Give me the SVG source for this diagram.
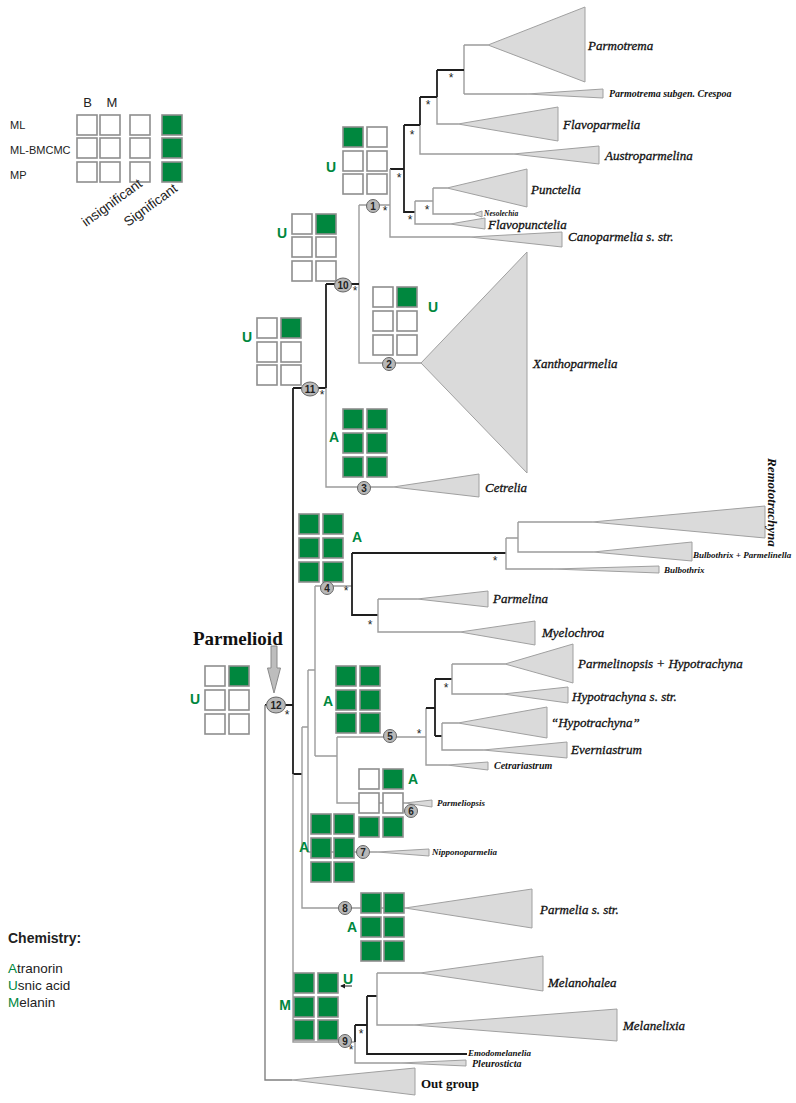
<svg xmlns="http://www.w3.org/2000/svg" width="796" height="1103" viewBox="0 0 796 1103">
<defs>
<style>
.g{stroke:#9c9c9c;stroke-width:1.4;fill:none}
.k{stroke:#1e1e1e;stroke-width:1.8;fill:none}
.tri{fill:#dadada;stroke:#a0a0a0;stroke-width:1}
.bw{fill:#fff;stroke:#8e8e8e;stroke-width:1.6}
.bg{fill:#00873e;stroke:#8e8e8e;stroke-width:1.6}
.nc{fill:#b8b8b8;stroke:#666;stroke-width:1}
.nt{font-family:'Liberation Sans',Arial,sans-serif;font-weight:bold;font-size:10px;fill:#222;text-anchor:middle}
.st{font-family:'Liberation Sans',Arial,sans-serif;font-size:12px;fill:#222;text-anchor:middle}
.tx{font-family:'Liberation Serif','Times New Roman',serif;font-style:italic;font-size:13px;fill:#111;stroke:#111;stroke-width:0.3}
.sm{font-family:'Liberation Serif','Times New Roman',serif;font-style:italic;font-weight:bold;fill:#111}
.gl{font-family:'Liberation Sans',Arial,sans-serif;font-weight:bold;font-size:14px;fill:#00873e;text-anchor:middle}
.lg{font-family:'Liberation Sans',Arial,sans-serif;fill:#222}
</style>
<marker id="ah" viewBox="0 0 6 6" refX="5" refY="3" markerWidth="5" markerHeight="5" orient="auto"><path d="M0,0 L6,3 L0,6 z" fill="#1e1e1e"/></marker>
</defs>
<rect width="796" height="1103" fill="#fff"/>

<!-- legend -->
<g id="legend">
<text class="lg" x="87.5" y="107" font-size="13" text-anchor="middle">B</text>
<text class="lg" x="112" y="107" font-size="13" text-anchor="middle">M</text>
<text class="lg" x="10" y="129" font-size="11">ML</text>
<text class="lg" x="10" y="154" font-size="11">ML-BMCMC</text>
<text class="lg" x="10" y="179" font-size="11">MP</text>
<rect class="bw" x="77" y="115" width="20" height="20"/><rect class="bw" x="100" y="115" width="20" height="20"/><rect class="bw" x="130" y="115" width="20" height="20"/><rect class="bg" x="162" y="115" width="20" height="20"/>
<rect class="bw" x="77" y="138" width="20" height="20"/><rect class="bw" x="100" y="138" width="20" height="20"/><rect class="bw" x="130" y="138" width="20" height="20"/><rect class="bg" x="162" y="138" width="20" height="20"/>
<rect class="bw" x="77" y="162" width="20" height="20"/><rect class="bw" x="100" y="162" width="20" height="20"/><rect class="bw" x="130" y="162" width="20" height="20"/><rect class="bg" x="162" y="162" width="20" height="20"/>
<text class="lg" font-size="13.5" transform="translate(86,227) rotate(-36)">insignificant</text>
<text class="lg" font-size="13.5" transform="translate(128,227) rotate(-36)">Significant</text>
</g>

<g id="chemistry-legend">
<text class="lg" x="8" y="943" font-size="14" font-weight="bold">Chemistry:</text>
<text class="lg" x="8" y="973" font-size="13.5"><tspan fill="#00873e">A</tspan>tranorin</text>
<text class="lg" x="8" y="990" font-size="13.5"><tspan fill="#00873e">U</tspan>snic acid</text>
<text class="lg" x="8" y="1007" font-size="13.5"><tspan fill="#00873e">M</tspan>elanin</text>
</g>

<!-- connectors -->
<g id="connectors">
<path class="g" d="M464,45 V94 M464,45 H488 M464,94 H527"/>
<path class="k" d="M437,70 H464 M437,70 V97"/>
<path class="g" d="M437,97 V124 H458"/>
<path class="k" d="M420,97 H437 M420,97 V125"/>
<path class="g" d="M420,125 V154 H513"/>
<path class="k" d="M404,125 H420 M404,125 V212 H415 M390,169 H404"/>
<path class="g" d="M415,201 V224 H450 M415,201 H433 M433,188 V214 H473 M433,188 H447"/>
<path class="g" d="M390,169 V237 H470 M359,205 H390 M359,205 V363 H421"/>
<path class="k" d="M326,284 H359 M326,284 V388 M293,388 H326"/>
<path class="g" d="M326,388 V487 H393"/>
<path class="k" d="M293,388 V774 M265,705 H293 M293,774 H302"/>
<path class="g" d="M293,774 V1042 H355"/>
<path class="g" d="M265,705 V1080 H292" style="stroke:#808080"/>
<path class="g" d="M302,727 V908 H405 M302,727 H308 M308,670 V852 H377 M308,670 H315 M315,586 V756 M315,586 H352"/>
<path class="k" d="M352,553 V615 H378 M352,553 H506"/>
<path class="g" d="M506,538 V569 H553 M506,538 H518 M518,522 V552 H593 M518,522 H592"/>
<path class="g" d="M378,599 V632 H460 M378,599 H417"/>
<path class="g" d="M315,756 H337 M337,737 V803 H405 M337,737 H426 M426,708 V765 H447"/>
<path class="k" d="M426,708 H435 M435,679 V736 M435,679 H452 M435,736 H442"/>
<path class="g" d="M452,664 V694 H503 M452,664 H505 M442,723 V750 H483 M442,723 H458"/>
<path class="k" d="M355,1025 V1042 M355,1025 H367 M367,996 V1054 H467 M367,996 H377"/>
<path class="g" d="M355,1042 V1063 H400 M377,973 V1025 H413 M377,973 H420"/>
<path d="M352,986 H341" stroke="#1e1e1e" stroke-width="1" marker-end="url(#ah)"/>
</g>

<!-- clades (triangles + labels) -->
<g id="clade-parmotrema"><polygon class="tri" points="488,45 585,7 585,82"/><text class="tx" x="588" y="50">Parmotrema</text></g>
<g id="clade-crespoa"><polygon class="tri" points="527,94 603,89 603,98"/><text class="sm" font-size="10" x="609" y="97">Parmotrema subgen. Crespoa</text></g>
<g id="clade-flavoparmelia"><polygon class="tri" points="458,124 558,107 558,141"/><text class="tx" x="563" y="129">Flavoparmelia</text></g>
<g id="clade-austroparmelina"><polygon class="tri" points="513,154 599,146 599,164"/><text class="tx" x="605" y="160">Austroparmelina</text></g>
<g id="clade-punctelia"><polygon class="tri" points="447,188 527,169 527,207"/><text class="tx" x="531" y="194">Punctelia</text></g>
<g id="clade-nesolechia"><polygon class="tri" points="473,214 482,211 482,217"/><text class="sm" font-size="7.5" x="484" y="215.5">Nesolechia</text></g>
<g id="clade-flavopunctelia"><polygon class="tri" points="450,224 485,218 485,229"/><text class="tx" font-size="11" x="488" y="229">Flavopunctelia</text></g>
<g id="clade-canoparmelia"><polygon class="tri" points="470,237 562,232 562,247"/><text class="tx" font-size="12.5" x="568" y="241">Canoparmelia s. str.</text></g>
<g id="clade-xanthoparmelia"><polygon class="tri" points="421,363 527,252 527,473"/><text class="tx" x="533" y="368">Xanthoparmelia</text></g>
<g id="clade-cetrelia"><polygon class="tri" points="393,487 479,474 479,497"/><text class="tx" x="485" y="492">Cetrelia</text></g>
<g id="clade-remototrachyna"><polygon class="tri" points="592,522 765,506 765,538"/><text class="sm" font-size="13" transform="translate(768,458) rotate(90)">Remototrachyna</text></g>
<g id="clade-bulbothrix-parmelinella"><polygon class="tri" points="593,552 692,542 692,561"/><text class="sm" font-size="9" x="693" y="558">Bulbothrix + Parmelinella</text></g>
<g id="clade-bulbothrix"><polygon class="tri" points="553,569 659,566 659,573"/><text class="sm" font-size="9" x="664" y="573">Bulbothrix</text></g>
<g id="clade-parmelina"><polygon class="tri" points="417,599 488,591 488,607"/><text class="tx" x="493" y="603">Parmelina</text></g>
<g id="clade-myelochroa"><polygon class="tri" points="460,632 535,621 535,645"/><text class="tx" x="542" y="637">Myelochroa</text></g>
<g id="clade-parmelinopsis"><polygon class="tri" points="505,664 573,644 573,683"/><text class="tx" x="578" y="668">Parmelinopsis + Hypotrachyna</text></g>
<g id="clade-hypotrachyna-ss"><polygon class="tri" points="503,694 568,687 568,703"/><text class="tx" x="572" y="701">Hypotrachyna s. str.</text></g>
<g id="clade-hypotrachyna-q"><polygon class="tri" points="458,723 547,707 547,738"/><text class="tx" x="551" y="727">“Hypotrachyna”</text></g>
<g id="clade-everniastrum"><polygon class="tri" points="483,750 567,742 567,758"/><text class="tx" x="571" y="754">Everniastrum</text></g>
<g id="clade-cetrariastrum"><polygon class="tri" points="447,765 488,762 488,770"/><text class="sm" font-size="10" x="494" y="769">Cetrariastrum</text></g>
<g id="clade-parmeliopsis"><polygon class="tri" points="405,803 432,800 432,807"/><text class="sm" font-size="9" x="437" y="806">Parmeliopsis</text></g>
<g id="clade-nipponoparmelia"><polygon class="tri" points="377,852 429,849 429,856"/><text class="sm" font-size="9" x="432" y="855">Nipponoparmelia</text></g>
<g id="clade-parmelia"><polygon class="tri" points="405,908 532,889 532,928"/><text class="tx" x="540" y="914">Parmelia s. str.</text></g>
<g id="clade-melanohalea"><polygon class="tri" points="420,973 543,956 543,991"/><text class="tx" x="548" y="987">Melanohalea</text></g>
<g id="clade-melanelixia"><polygon class="tri" points="413,1025 617,1009 617,1041"/><text class="tx" x="623" y="1030">Melanelixia</text></g>
<g id="clade-emodomelanelia"><text class="sm" font-size="9" x="468" y="1056">Emodomelanelia</text></g>
<g id="clade-pleurosticta"><polygon class="tri" points="400,1063 466,1060 466,1066"/><text class="sm" font-size="10" x="472" y="1067">Pleurosticta</text></g>
<g id="clade-outgroup"><polygon class="tri" points="292,1080 415,1068 415,1095"/><text x="421" y="1088" font-family="'Liberation Serif','Times New Roman',serif" font-weight="bold" font-size="13" fill="#111">Out group</text></g>

<!-- support stars -->
<g id="stars">
<text class="st" x="451" y="82">*</text>
<text class="st" x="428" y="109">*</text>
<text class="st" x="412" y="139">*</text>
<text class="st" x="399" y="182">*</text>
<text class="st" x="427" y="214">*</text>
<text class="st" x="410" y="224">*</text>
<text class="st" x="385" y="215">*</text>
<text class="st" x="355" y="295">*</text>
<text class="st" x="322" y="399">*</text>
<text class="st" x="346" y="595">*</text>
<text class="st" x="495" y="565">*</text>
<text class="st" x="370" y="629">*</text>
<text class="st" x="287" y="719">*</text>
<text class="st" x="419" y="738">*</text>
<text class="st" x="446" y="692">*</text>
<text class="st" x="351" y="1054">*</text>
<text class="st" x="361" y="1038">*</text>
</g>

<!-- Parmelioid arrow -->
<g id="parmelioid">
<text x="193" y="645" font-family="'Liberation Serif','Times New Roman',serif" font-weight="bold" font-size="19" fill="#111">Parmelioid</text>
<path d="M271,646 H277 V668 H280.5 L274,693 L267.5,668 H271 Z" fill="#bdbdbd" stroke="#8a8a8a" stroke-width="1"/>
</g>

<!-- character state boxes -->
<g id="node-1"><rect class="bg" x="343" y="127" width="20" height="20"/><rect class="bw" x="367" y="127" width="20" height="20"/><rect class="bw" x="343" y="151" width="20" height="20"/><rect class="bw" x="367" y="151" width="20" height="20"/><rect class="bw" x="343" y="174" width="20" height="20"/><rect class="bw" x="367" y="174" width="20" height="20"/><text class="gl" x="331" y="172">U</text>
<ellipse class="nc" cx="373" cy="206" rx="6.5" ry="6.5"/><text class="nt" x="373" y="209.5">1</text></g>
<g id="node-10"><rect class="bw" x="292" y="214" width="20" height="20"/><rect class="bg" x="316" y="214" width="20" height="20"/><rect class="bw" x="292" y="237" width="20" height="20"/><rect class="bw" x="316" y="237" width="20" height="20"/><rect class="bw" x="292" y="261" width="20" height="20"/><rect class="bw" x="316" y="261" width="20" height="20"/><text class="gl" x="282" y="238">U</text>
<ellipse class="nc" cx="343" cy="285" rx="8.5" ry="7"/><text class="nt" x="343" y="288.5">10</text></g>
<g id="node-2"><rect class="bw" x="373" y="287" width="20" height="20"/><rect class="bg" x="397" y="287" width="20" height="20"/><rect class="bw" x="373" y="311" width="20" height="20"/><rect class="bw" x="397" y="311" width="20" height="20"/><rect class="bw" x="373" y="335" width="20" height="20"/><rect class="bw" x="397" y="335" width="20" height="20"/><text class="gl" x="433" y="312">U</text>
<ellipse class="nc" cx="389" cy="364" rx="6.5" ry="6.5"/><text class="nt" x="389" y="367.5">2</text></g>
<g id="node-11"><rect class="bw" x="257" y="318" width="20" height="20"/><rect class="bg" x="281" y="318" width="20" height="20"/><rect class="bw" x="257" y="342" width="20" height="20"/><rect class="bw" x="281" y="342" width="20" height="20"/><rect class="bw" x="257" y="365" width="20" height="20"/><rect class="bw" x="281" y="365" width="20" height="20"/><text class="gl" x="247" y="342">U</text>
<ellipse class="nc" cx="310" cy="389" rx="8.5" ry="7"/><text class="nt" x="310" y="392.5">11</text></g>
<g id="node-3"><rect class="bg" x="343" y="409" width="20" height="20"/><rect class="bg" x="367" y="409" width="20" height="20"/><rect class="bg" x="343" y="433" width="20" height="20"/><rect class="bg" x="367" y="433" width="20" height="20"/><rect class="bg" x="343" y="457" width="20" height="20"/><rect class="bg" x="367" y="457" width="20" height="20"/><text class="gl" x="334" y="442">A</text>
<ellipse class="nc" cx="364" cy="488" rx="6.5" ry="6.5"/><text class="nt" x="364" y="491.5">3</text></g>
<g id="node-4"><rect class="bg" x="299" y="514" width="20" height="20"/><rect class="bg" x="323" y="514" width="20" height="20"/><rect class="bg" x="299" y="538" width="20" height="20"/><rect class="bg" x="323" y="538" width="20" height="20"/><rect class="bg" x="299" y="562" width="20" height="20"/><rect class="bg" x="323" y="562" width="20" height="20"/><text class="gl" x="357" y="542">A</text>
<ellipse class="nc" cx="327" cy="588" rx="6.5" ry="6.5"/><text class="nt" x="327" y="591.5">4</text></g>
<g id="node-12"><rect class="bw" x="205" y="666" width="20" height="20"/><rect class="bg" x="229" y="666" width="20" height="20"/><rect class="bw" x="205" y="690" width="20" height="20"/><rect class="bw" x="229" y="690" width="20" height="20"/><rect class="bw" x="205" y="714" width="20" height="20"/><rect class="bw" x="229" y="714" width="20" height="20"/><text class="gl" x="195" y="704">U</text>
<ellipse class="nc" cx="276" cy="705" rx="9.5" ry="8"/><text class="nt" x="276" y="708.5">12</text></g>
<g id="node-5"><rect class="bg" x="336" y="666" width="20" height="20"/><rect class="bg" x="360" y="666" width="20" height="20"/><rect class="bg" x="336" y="690" width="20" height="20"/><rect class="bg" x="360" y="690" width="20" height="20"/><rect class="bg" x="336" y="713" width="20" height="20"/><rect class="bg" x="360" y="713" width="20" height="20"/><text class="gl" x="328" y="706">A</text>
<ellipse class="nc" cx="390" cy="736" rx="6.5" ry="6.5"/><text class="nt" x="390" y="739.5">5</text></g>
<g id="node-6"><rect class="bw" x="359" y="769" width="20" height="20"/><rect class="bg" x="383" y="769" width="20" height="20"/><rect class="bw" x="359" y="793" width="20" height="20"/><rect class="bw" x="383" y="793" width="20" height="20"/><rect class="bg" x="359" y="817" width="20" height="20"/><rect class="bg" x="383" y="817" width="20" height="20"/><text class="gl" x="413" y="784">A</text>
<ellipse class="nc" cx="411" cy="811" rx="6.5" ry="6.5"/><text class="nt" x="411" y="814.5">6</text></g>
<g id="node-7"><rect class="bg" x="311" y="814" width="20" height="20"/><rect class="bg" x="334" y="814" width="20" height="20"/><rect class="bg" x="311" y="838" width="20" height="20"/><rect class="bg" x="334" y="838" width="20" height="20"/><rect class="bg" x="311" y="862" width="20" height="20"/><rect class="bg" x="334" y="862" width="20" height="20"/><text class="gl" x="304" y="852">A</text>
<ellipse class="nc" cx="363" cy="852" rx="6.5" ry="6.5"/><text class="nt" x="363" y="855.5">7</text></g>
<g id="node-8"><rect class="bg" x="361" y="893" width="20" height="20"/><rect class="bg" x="384" y="893" width="20" height="20"/><rect class="bg" x="361" y="917" width="20" height="20"/><rect class="bg" x="384" y="917" width="20" height="20"/><rect class="bg" x="361" y="941" width="20" height="20"/><rect class="bg" x="384" y="941" width="20" height="20"/><text class="gl" x="352" y="932">A</text>
<ellipse class="nc" cx="345" cy="908" rx="6.5" ry="6.5"/><text class="nt" x="345" y="911.5">8</text></g>
<g id="node-9"><rect class="bg" x="294" y="973" width="20" height="20"/><rect class="bg" x="318" y="973" width="20" height="20"/><rect class="bg" x="294" y="997" width="20" height="20"/><rect class="bg" x="318" y="997" width="20" height="20"/><rect class="bg" x="294" y="1020" width="20" height="20"/><rect class="bg" x="318" y="1020" width="20" height="20"/><text class="gl" x="285" y="1010">M</text><text class="gl" x="348" y="984">U</text>
<ellipse class="nc" cx="345" cy="1041" rx="6.5" ry="6.5"/><text class="nt" x="345" y="1044.5">9</text></g>
</svg>
